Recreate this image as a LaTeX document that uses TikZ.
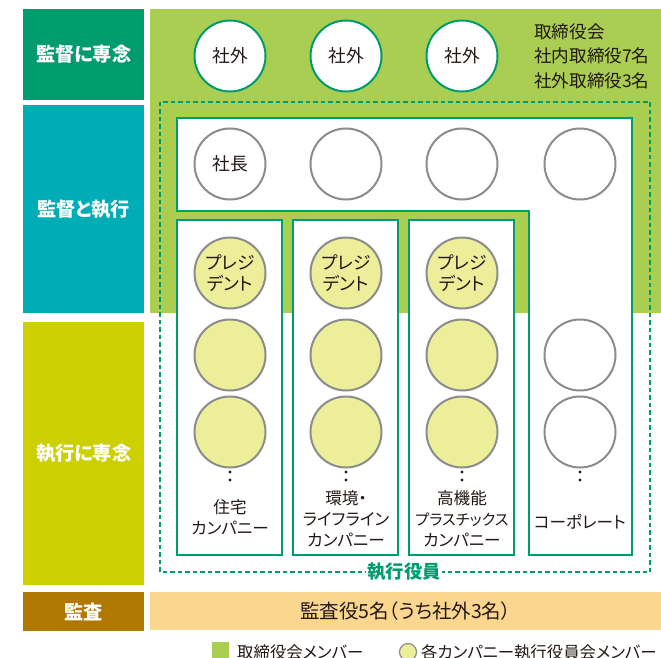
\documentclass[tikz,border=0pt]{standalone}
\usepackage{fontspec}
\setmainfont{Noto Sans CJK JP}[CharacterWidth=AlternateProportional]
\definecolor{dgreen}{RGB}{0,155,110}
\definecolor{teal}{RGB}{0,172,181}
\definecolor{ylab}{RGB}{204,208,0}
\definecolor{brown}{RGB}{176,120,0}
\definecolor{lgreen}{RGB}{170,206,82}
\definecolor{ycirc}{RGB}{236,238,154}
\definecolor{audit}{RGB}{251,214,142}
\definecolor{gcirc}{RGB}{140,140,140}
\definecolor{txt}{RGB}{35,24,21}
\tikzset{
  lab/.style={fill=#1, text=white, inner sep=0pt, anchor=north west, font=\fontsize{19.2}{22}\selectfont\bfseries},
  circ/.style={circle, minimum size=71pt, inner sep=0pt, line width=2pt, text=txt, font=\fontsize{17.8}{20.5}\selectfont, align=center},
  outc/.style={circ, draw=dgreen, fill=white},
  execc/.style={circ, draw=gcirc, fill=white},
  pres/.style={circ, draw=gcirc, fill=ycirc},
  colbox/.style={draw=dgreen, line width=2.8pt, fill=white},
  coltxt/.style={text=txt, align=center, font=\fontsize{16.6}{21}\selectfont},
  dotm/.style={circle, fill=txt, inner sep=0pt, minimum size=3.4pt},
}
\begin{document}
\begin{tikzpicture}[x=1pt,y=-1pt]
\useasboundingbox (0,0) rectangle (661,658);
% left labels
\node[lab=dgreen, minimum width=121pt, minimum height=91pt] (l1) at (23,9) {監督に専念};
\node[lab=teal, minimum width=121pt, minimum height=208pt] (l2) at (23,105) {監督と執行};
\node[lab=ylab, minimum width=121pt, minimum height=263pt] (l3) at (23,322) {執行に専念};
\node[lab=brown, minimum width=121pt, minimum height=39pt] (l4) at (23,592) {監査};
% green board area
\fill[lgreen] (150,9) rectangle (661,313);
% audit bar
\node[fill=audit, minimum width=511pt, minimum height=38pt, inner sep=0pt, anchor=north west, text=txt, font=\fontsize{19.5}{22}\selectfont] (aud) at (150,592) {監査役5名（うち社外3名）};
% dashed executive officers frame
\draw[dgreen, line width=2pt, dash pattern=on 4.5pt off 3pt] (160,102) rectangle (650,572);
% L-shaped box
\draw[colbox] (177,118) -- (632,118) -- (632,555) -- (529,555) -- (529,211) -- (177,211) -- cycle;
% company columns
\draw[colbox] (177,220) rectangle (282,555);
\draw[colbox] (293,220) rectangle (398,555);
\draw[colbox] (409,220) rectangle (514,555);
% outside directors
\node[outc] (o1) at (230,56) {社外};
\node[outc] (o2) at (346,56) {社外};
\node[outc] (o3) at (462,56) {社外};
\node[text=txt, align=left, anchor=west, inner sep=0pt, font=\fontsize{17.6}{24.5}\selectfont] (board) at (534,56) {取締役会\\社内取締役7名\\社外取締役3名};
% executive row
\node[execc] (e1) at (230,164) {社長};
\node[execc] (e2) at (346,164) {};
\node[execc] (e3) at (462,164) {};
\node[execc] (e4) at (580,164) {};
% presidents
\node[pres] (p1) at (230,273) {プレジ\\デント};
\node[pres] (p2) at (346,273) {プレジ\\デント};
\node[pres] (p3) at (462,273) {プレジ\\デント};
% other members
\node[pres] (a1) at (230,355) {};
\node[pres] (a2) at (346,355) {};
\node[pres] (a3) at (462,355) {};
\node[execc] (a4) at (580,355) {};
\node[pres] (b1) at (230,432) {};
\node[pres] (b2) at (346,432) {};
\node[pres] (b3) at (462,432) {};
\node[execc] (b4) at (580,432) {};
% dots
\foreach \x/\n in {230/1,346/2,462/3,580/4}{
  \node[dotm] (da\n) at (\x,472) {};
  \node[dotm] (db\n) at (\x,480) {};
}
% column labels
\node[coltxt] (c1) at (230,517) {住宅\\カンパニー};
\node[coltxt] (c2) at (346,519) {環境・\\ライフライン\\カンパニー};
\node[coltxt] (c3) at (462,519) {高機能\\{\fontsize{15.2}{21}\selectfont プラスチックス}\\カンパニー};
\node[coltxt] (c4) at (580,522) {コーポレート};
% executive officers label
\node[fill=white, inner sep=1.5pt, text=dgreen, font=\fontsize{18.3}{20}\selectfont\bfseries] (yak) at (404,572) {執行役員};
% legend
\node[fill=lgreen, minimum size=17pt, inner sep=0pt, anchor=north west] (lg1) at (212,642) {};
\node[anchor=west, text=txt, inner sep=0pt, font=\fontsize{16.4}{20}\selectfont] (lt1) at (237,652) {取締役会メンバー};
\node[circle, draw=gcirc, fill=ycirc, line width=1.2pt, minimum size=17pt, inner sep=0pt] (lg2) at (408,652) {};
\node[anchor=west, text=txt, inner sep=0pt, font=\fontsize{16.4}{20}\selectfont] (lt2) at (421,652) {各カンパニー執行役員会メンバー};
\end{tikzpicture}
\end{document}
